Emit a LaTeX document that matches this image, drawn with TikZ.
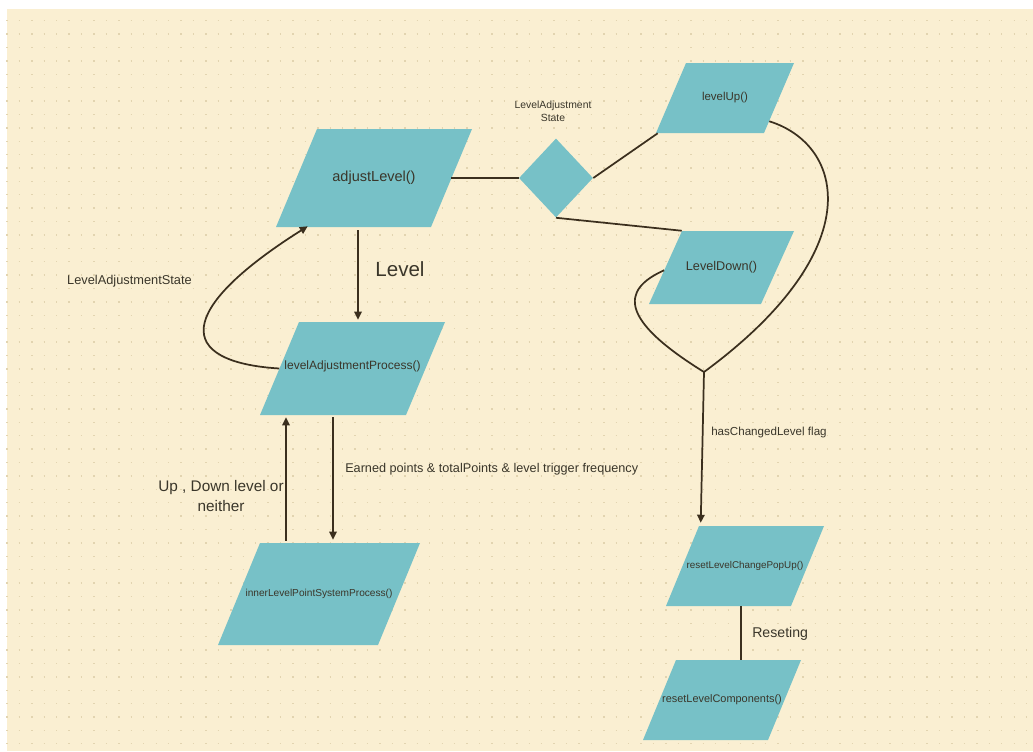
\documentclass[tikz,border=0pt]{standalone}
\usepackage{fontspec}
\setmainfont{Liberation Sans}
\usetikzlibrary{shapes.geometric,arrows.meta,calc}
\definecolor{cream}{HTML}{FAEFD2}
\definecolor{tealbox}{HTML}{77C1C7}
\definecolor{ink}{HTML}{3A362A}
\definecolor{wire}{HTML}{3B2F1E}
\definecolor{dotc}{HTML}{E2D4B0}
\newdimen\pxu \pxu=0.75pt
\tikzset{
  para/.style n args={3}{minimum width=#1\pxu, minimum height=#2\pxu, inner sep=0pt, text=ink,
    path picture={\fill[tealbox] ([xshift=#3\pxu]path picture bounding box.north west) -- (path picture bounding box.north east) -- ([xshift=-#3\pxu]path picture bounding box.south east) -- (path picture bounding box.south west) -- cycle;}},
  fs/.style={font=\fontsize{#1}{#1}\selectfont},
  lbl/.style={text=ink, inner sep=0pt},
  wireline/.style={draw=wire, line width=1.3pt},
  arr/.style={draw=wire, line width=1.3pt, -{Triangle[length=6pt,width=5.6pt]}},
}
\begin{document}
\begin{tikzpicture}[x=0.75pt,y=-0.75pt]
\useasboundingbox (0,0) rectangle (1033,751);
\fill[white] (0,0) rectangle (1033,751);
\fill[cream] (7,9) rectangle (1033,751);
\foreach \k in {0,...,54}{
  \draw[dotc, line width=1.05pt, dash pattern=on 1.05pt off 8.276pt] (6.3,{20.7+13.39*\k}) -- (1033,{20.7+13.39*\k});
}
% boxes
\node[para={196}{98}{41}, fs=10.9] (adj) at (374,178) {adjustLevel()};
\node[para={138}{70}{30}, fs=8.6] (up) at (725,98) {levelUp()};
\node[para={145}{73}{33}, fs=9.5] (down) at (721.5,267.5) {LevelDown()};
\node[para={185}{93}{39}, fs=9] (lap) at (352.5,368.5) {\raisebox{4.9pt}{levelAdjustmentProcess()}};
\node[para={202}{102}{42}, fs=7.6] (inner) at (319,594) {innerLevelPointSystemProcess()};
\node[para={158}{80}{33}, fs=7.4] (popup) at (745,566) {resetLevelChangePopUp()};
\node[para={158}{80}{33}, fs=8.2] (comp) at (722,700) {\raisebox{-1.5pt}{resetLevelComponents()}};
\node[diamond, fill=tealbox, minimum width=74\pxu, minimum height=79\pxu, inner sep=0pt] (dia) at (556,178) {};
\coordinate (m) at (704,372);
% labels
\node[lbl, fs=15.4] (lvl) at (400,269) {Level};
\node[lbl, fs=9.6] (las) at (129.5,281) {LevelAdjustmentState};
\node[lbl, font=\fontsize{7.8}{9.8}\selectfont, align=center] (las2) at (553,111) {LevelAdjustment\\State};
\node[lbl, fs=8.7, anchor=west] (flag) at (711,432) {hasChangedLevel flag};
\node[lbl, fs=10.6, anchor=west] (rst) at (752,634) {Reseting};
\node[lbl, fs=9.5, anchor=west] (earn) at (345,469) {Earned points \& totalPoints \& level trigger frequency};
\node[lbl, font=\fontsize{11.5}{14.3}\selectfont, align=center] (updn) at (221,496) {Up , Down level or\\neither};
% connectors
\draw[arr] ($(adj.south)+(-16,3)$) -- ($(lap.north)+(5.5,-2)$);
\draw[arr] ($(lap.west)+(19.5,0)$) .. controls (175,362) and (175,310) .. ($(adj.south west)+(32,-1)$);
\draw[wireline] ($(adj.east)+(-21,0)$) -- (dia.west);
\draw[wireline] (dia.east) -- ($(up.south west)+(2,0)$);
\draw[wireline] (dia.south) -- ($(down.north west)+(33,0)$);
\draw[wireline] ($(up.south east)+(-25,-12)$) .. controls (845,145) and (870,250) .. (m);
\draw[wireline] ($(down.south west)+(15.4,-34)$) .. controls (620,290) and (620,320) .. (m);
\draw[arr] (m) -- ($(popup.north west)+(35,-3)$);
\draw[wireline] ($(popup.south)+(-4,0)$) -- ($(comp.north)+(19,0)$);
\draw[arr] ($(lap.south)+(-19.5,2)$) -- ($(inner.north)+(14,-3)$);
\draw[arr] ($(inner.north)+(-33,-2)$) -- ($(lap.south)+(-66.5,2)$);
\end{tikzpicture}
\end{document}
